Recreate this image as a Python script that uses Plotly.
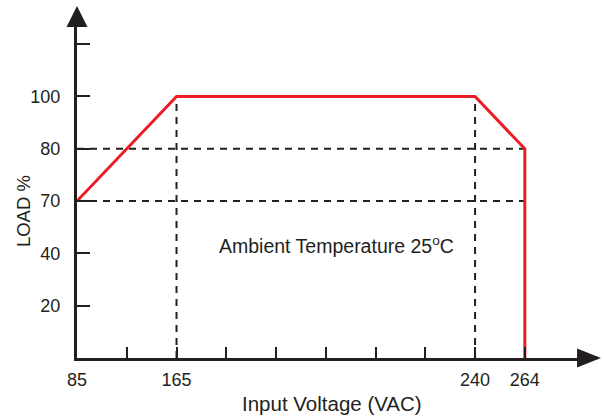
import numpy as np
import plotly.graph_objects as go

# ---- data ----
input_voltage = [85, 165, 240, 264, 264]     # VAC
load_percent = [70, 100, 100, 80, 0]        # %

# axis scale definition (non-linear axes as in the original drawing)
x_tick_volts = [85, 165, 240, 264]
x_tick_slots = [0, 2, 8, 9]
x_minor_slots = list(range(0, 10))
y_levels = [0, 20, 40, 70, 80, 100]
y_extra_tick = 6

annotation_text = "Ambient Temperature 25<sup>o</sup>C"
x_title = "Input Voltage (VAC)"
y_title = "LOAD %"

INK = "#231f20"
RED = "#ed1c24"
FONT = "Liberation Sans, Arial, sans-serif"


def xmap(v):
    return np.interp(v, x_tick_volts, x_tick_slots)


def ymap(p):
    return np.interp(p, y_levels, list(range(len(y_levels))))


X_MAX = 10.35
Y_MAX = 6.577


def px(x):
    return x / X_MAX


def py(y):
    return y / Y_MAX


fig = go.Figure()
fig.add_trace(go.Scatter(
    x=xmap(input_voltage), y=ymap(load_percent), mode="lines",
    line=dict(color=RED, width=3), hoverinfo="skip", showlegend=False,
))

# dashed guide lines
shapes = []
for v, p in [(165, 100), (240, 100)]:
    shapes.append(dict(type="line", xref="x", yref="y", layer="below",
                       x0=xmap(v), x1=xmap(v), y0=0, y1=ymap(p),
                       line=dict(color=INK, width=2, dash="7px,6px")))
for p in [80, 70]:
    shapes.append(dict(type="line", xref="x", yref="y", layer="below",
                       x0=0, x1=xmap(264), y0=ymap(p), y1=ymap(p),
                       line=dict(color=INK, width=2, dash="7px,6px")))

# arrow heads
ya_tip, ya_base, ya_hw = 6.73, 6.33, 0.211
xa_tip, xa_base, xa_hh = 10.53, 10.05, 0.182
shapes.append(dict(type="path", xref="paper", yref="paper", layer="above",
                   path=f"M {px(-ya_hw)},{py(ya_base)} L {px(0)},{py(ya_tip)} L {px(ya_hw)},{py(ya_base)} Z",
                   fillcolor=INK, line=dict(width=0)))
shapes.append(dict(type="path", xref="paper", yref="paper", layer="above",
                   path=f"M {px(xa_base)},{py(-xa_hh)} L {px(xa_tip)},{py(0)} L {px(xa_base)},{py(xa_hh)} Z",
                   fillcolor=INK, line=dict(width=0)))

x_ticktext = []
for s in x_minor_slots:
    x_ticktext.append(str(x_tick_volts[x_tick_slots.index(s)]) if s in x_tick_slots else "")
y_tickvals = list(range(1, len(y_levels))) + [y_extra_tick]
y_ticktext = [str(v) for v in y_levels[1:]] + [""]

fig.update_layout(
    width=604, height=417,
    margin=dict(l=77, r=12, t=14, b=59, autoexpand=False),
    paper_bgcolor="white", plot_bgcolor="white",
    font=dict(family=FONT, size=18, color=INK),
    shapes=shapes,
    xaxis=dict(range=[0, X_MAX], showgrid=False, zeroline=False,
               showline=True, linewidth=3, linecolor=INK,
               ticks="inside", ticklen=11, tickwidth=2, tickcolor=INK,
               tickvals=x_minor_slots, ticktext=x_ticktext,
               ticklabelstandoff=3, tickfont=dict(size=18, color=INK)),
    yaxis=dict(range=[0, Y_MAX], showgrid=False, zeroline=False,
               showline=True, linewidth=3, linecolor=INK,
               ticks="inside", ticklen=13, tickwidth=2, tickcolor=INK,
               tickvals=y_tickvals, ticktext=y_ticktext,
               ticklabelstandoff=10, tickfont=dict(size=18, color=INK)),
    annotations=[
        dict(text=annotation_text, x=px(5.225), y=py(2.17), xref="paper", yref="paper",
             xanchor="center", yanchor="middle",
             showarrow=False, font=dict(size=19.5, color=INK)),
        dict(text=x_title, x=px(5.13), y=py(-0.865), xref="paper", yref="paper",
             xanchor="center", yanchor="middle",
             showarrow=False, font=dict(size=20.5, color=INK)),
        dict(text=y_title, x=px(-1.075), y=py(2.80), xref="paper", yref="paper",
             xanchor="center", yanchor="middle",
             textangle=-90, showarrow=False, font=dict(size=18.5, color=INK)),
    ],
)

fig.write_html("out.html", config={"displayModeBar": False},
               post_script="document.body.style.margin='0px';")
